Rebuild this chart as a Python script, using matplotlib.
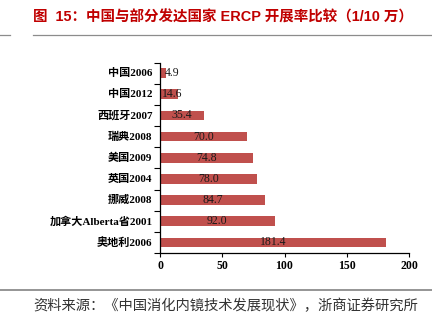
import matplotlib
matplotlib.use("Agg")
import matplotlib.pyplot as plt
from matplotlib.lines import Line2D

plt.rcParams['font.family'] = ['Liberation Serif', 'Noto Sans CJK SC', 'DejaVu Sans']

categories = ["中国2006", "中国2012", "西班牙2007", "瑞典2008", "美国2009",
              "英国2004", "挪威2008", "加拿大Alberta省2001", "奥地利2006"]
values = [4.9, 14.6, 35.4, 70.0, 74.8, 78.0, 84.7, 92.0, 181.4]
x_ticks = [0, 50, 100, 150, 200]

title = "图  15：中国与部分发达国家 ERCP 开展率比较（1/10 万）"
source = "资料来源：《中国消化内镜技术发展现状》，浙商证券研究所"

bar_color = "#C0504D"

fig = plt.figure(figsize=(4.32, 3.24), dpi=100)
ax = fig.add_axes([160 / 432, 1 - 253 / 324, 249 / 432, 190.5 / 324])

ypos = list(range(len(categories)))
ax.barh(ypos, values, height=0.46, color=bar_color, zorder=2)
ax.set_ylim(len(categories) - 0.5, -0.5)
ax.set_xlim(0, 200)
ax.set_xticks(x_ticks)
ax.set_xticklabels([str(t) for t in x_ticks], fontsize=8.5, fontweight='bold')

# ticks sit between categories on the value axis
ax.set_yticks([p - 0.5 for p in ypos] + [len(categories) - 0.5])
ax.set_yticklabels([])
ax.tick_params(axis='y', length=4, width=0.8, direction='out')
ax.tick_params(axis='x', length=3, width=0.8, direction='out', pad=2)
for p, name in zip(ypos, categories):
    ax.text(-0.03, p, name, transform=ax.get_yaxis_transform(), ha='right',
            va='center', fontsize=8, fontweight='bold')

for p, v in zip(ypos, values):
    ax.text(max(v / 2, 9.6), p, f"{v:.1f}", ha='center', va='center',
            fontsize=8.5, color='#1a1a1a', zorder=3)

for side in ('top', 'right'):
    ax.spines[side].set_visible(False)
ax.spines['left'].set_linewidth(0.9)
ax.spines['bottom'].set_linewidth(0.9)

fig.text(33 / 432, 1 - 17 / 324, title, fontsize=10.45, fontweight='bold',
         color='#C00000', ha='left', va='center',
         family=['Liberation Sans', 'Noto Sans CJK SC'])
fig.add_artist(Line2D([0, 10 / 432], [1 - 34.5 / 324] * 2, color='#8c8c8c', lw=0.9))
fig.add_artist(Line2D([33 / 432, 1], [1 - 34.5 / 324] * 2, color='#8c8c8c', lw=0.9))
fig.add_artist(Line2D([0, 1], [1 - 290 / 324] * 2, color='#8c8c8c', lw=1.3))
fig.text(33 / 432, 1 - 306 / 324, source, fontsize=10.3, color='#333333',
         ha='left', va='center', family=['Noto Sans CJK SC'])

fig.savefig("out.png", dpi=100)
